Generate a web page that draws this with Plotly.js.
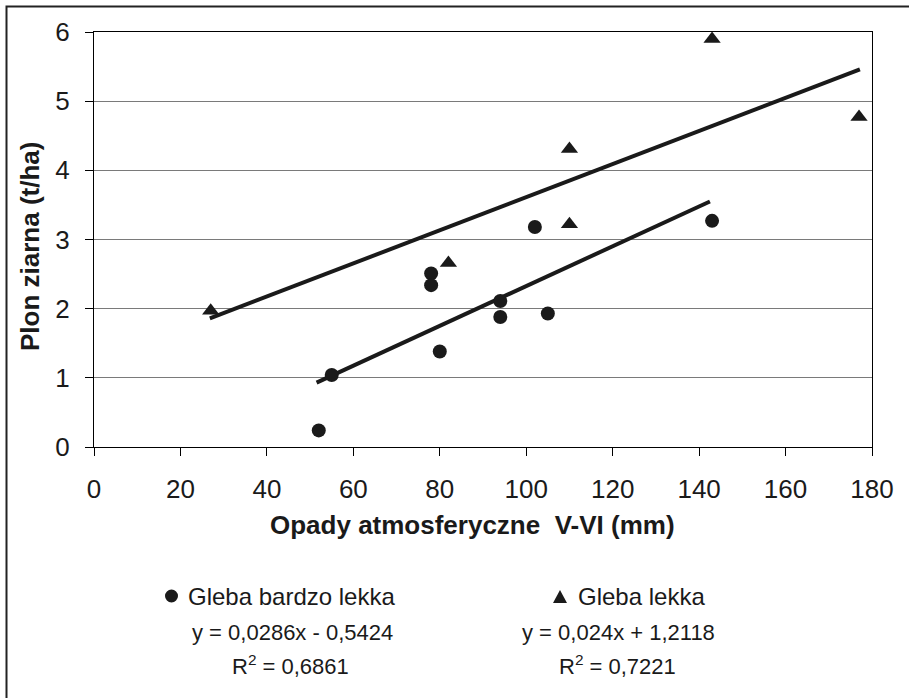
<!DOCTYPE html>
<html>
<head>
<meta charset="utf-8">
<script src="https://cdn.plot.ly/plotly-3.0.1.min.js"></script>
<style>html,body{margin:0;padding:0;background:#fff;}#chart{width:909px;height:698px;}</style>
</head>
<body>
<div id="chart"></div>
<script>
// Data
const xBardzoLekka = [52, 55, 78, 78, 80, 94, 94, 105, 102, 143];
const yBardzoLekka = [0.24, 1.04, 2.51, 2.34, 1.38, 2.11, 1.88, 1.93, 3.18, 3.27];
const xLekka = [27, 82, 110, 110, 143, 177];
const yLekka = [1.97, 2.66, 3.22, 4.31, 5.90, 4.77];
const trendBardzoX = [51.5, 142.5];
const trendBardzoY = [0.93, 3.55];
const trendLekkaX = [26.8, 177.2];
const trendLekkaY = [1.86, 5.46];
const xTicks = [0, 20, 40, 60, 80, 100, 120, 140, 160, 180];
const yTicks = [0, 1, 2, 3, 4, 5, 6];
const seriesNames = ['Gleba bardzo lekka', 'Gleba lekka'];
const equations = ['y = 0,0286x - 0,5424', 'y = 0,024x + 1,2118'];
const rSquared = ['R<sup>2</sup> = 0,6861', 'R<sup>2</sup> = 0,7221'];

const FONT = 'Liberation Sans, Arial, sans-serif';
const INK = '#1a1a1a';

// plot area geometry (pixels)
const L = 94, R = 872, T = 32, B = 447;
const W = 909, H = 698;
const px = x => (x - L) / (R - L);
const py = y => (B - y) / (B - T);

const traces = [
  {x: trendBardzoX, y: trendBardzoY, mode: 'lines', line: {color: INK, width: 4}, hoverinfo: 'skip', showlegend: false},
  {x: trendLekkaX, y: trendLekkaY, mode: 'lines', line: {color: INK, width: 4}, hoverinfo: 'skip', showlegend: false},
  {x: xBardzoLekka, y: yBardzoLekka, mode: 'markers', name: seriesNames[0],
   marker: {symbol: 'circle', size: 14, color: INK}, showlegend: false, cliponaxis: false},
  {x: xLekka, y: yLekka, mode: 'markers', name: seriesNames[1],
   marker: {symbol: 'triangle-up', size: 15, color: INK}, showlegend: false, cliponaxis: false}
];

const axisCommon = {
  showline: true, linecolor: '#000', linewidth: 1, mirror: true,
  ticks: 'outside', ticklen: 8, tickcolor: '#000', tickwidth: 1,
  tickfont: {family: FONT, size: 26, color: '#1a1a1a'},
  zeroline: false
};

const annotations = [
  {text: '<b>Opady atmosferyczne  V-VI (mm)</b>', xref: 'paper', yref: 'paper', x: px(472), y: py(525),
   xanchor: 'center', yanchor: 'middle', showarrow: false, font: {family: FONT, size: 26, color: '#1a1a1a'}},
  {text: '<b>Plon ziarna (t/ha)</b>', xref: 'paper', yref: 'paper', x: px(30), y: py(247), textangle: -90,
   xanchor: 'center', yanchor: 'middle', showarrow: false, font: {family: FONT, size: 26, color: '#1a1a1a'}},
  // legend
  {text: seriesNames[0], xref: 'paper', yref: 'paper', x: px(186), y: py(596), xanchor: 'left', yanchor: 'middle',
   showarrow: false, font: {family: FONT, size: 24, color: '#1a1a1a'}},
  {text: seriesNames[1], xref: 'paper', yref: 'paper', x: px(576), y: py(596), xanchor: 'left', yanchor: 'middle',
   showarrow: false, font: {family: FONT, size: 24, color: '#1a1a1a'}},
  {text: equations[0], xref: 'paper', yref: 'paper', x: px(292), y: py(632), xanchor: 'center', yanchor: 'middle',
   showarrow: false, font: {family: FONT, size: 22, color: '#1a1a1a'}},
  {text: equations[1], xref: 'paper', yref: 'paper', x: px(618), y: py(632), xanchor: 'center', yanchor: 'middle',
   showarrow: false, font: {family: FONT, size: 22, color: '#1a1a1a'}},
  {text: rSquared[0], xref: 'paper', yref: 'paper', x: px(290), y: py(665), xanchor: 'center', yanchor: 'middle',
   showarrow: false, font: {family: FONT, size: 22, color: '#1a1a1a'}},
  {text: rSquared[1], xref: 'paper', yref: 'paper', x: px(617), y: py(665), xanchor: 'center', yanchor: 'middle',
   showarrow: false, font: {family: FONT, size: 22, color: '#1a1a1a'}}
];

const shapes = [
  {type: 'rect', xref: 'paper', yref: 'paper', x0: px(6.5), x1: px(W + 60), y0: py(H + 60), y1: py(6.5),
   line: {color: '#222', width: 2}, fillcolor: 'rgba(0,0,0,0)', layer: 'below'},
  // legend symbols
  {type: 'circle', xref: 'paper', yref: 'paper', x0: px(165), x1: px(178), y0: py(602.5), y1: py(589.5),
   line: {width: 0}, fillcolor: INK},
  {type: 'path', xref: 'paper', yref: 'paper',
   path: 'M ' + px(553) + ' ' + py(603) + ' L ' + px(567) + ' ' + py(603) + ' L ' + px(560) + ' ' + py(590) + ' Z',
   line: {width: 0}, fillcolor: INK}
];

const layout = {
  width: W, height: H,
  margin: {l: L, r: W - R, t: T, b: H - B, pad: 0},
  paper_bgcolor: '#fff', plot_bgcolor: '#fff',
  showlegend: false,
  xaxis: Object.assign({}, axisCommon, {range: [0, 180], tickvals: xTicks, ticktext: xTicks.map(String),
    showgrid: false, ticklabelstandoff: 11}),
  yaxis: Object.assign({}, axisCommon, {range: [0, 6], tickvals: yTicks, ticktext: yTicks.map(String),
    showgrid: true, gridcolor: '#7a7a7a', gridwidth: 1, ticklabelstandoff: 10}),
  annotations: annotations,
  shapes: shapes
};

Plotly.newPlot('chart', traces, layout, {staticPlot: true, displayModeBar: false});
</script>
</body>
</html>
